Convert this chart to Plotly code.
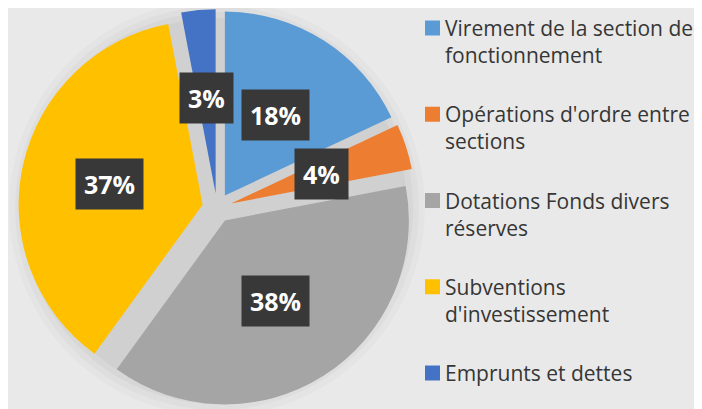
import math
import plotly.graph_objects as go

labels = ["Virement de la section de fonctionnement",
          "Opérations d'ordre entre sections",
          "Dotations Fonds divers réserves",
          "Subventions d'investissement",
          "Emprunts et dettes"]
legend_lines = [["Virement de la section de", "fonctionnement"],
                ["Opérations d'ordre entre", "sections"],
                ["Dotations Fonds divers", "réserves"],
                ["Subventions", "d'investissement"],
                ["Emprunts et dettes"]]
values = [18, 4, 38, 37, 3]
colors = ["#5B9BD5", "#ED7D31", "#A5A5A5", "#FFC000", "#4472C4"]

W, H = 702, 409
CX, CY = 209, 200      # pie centre in px (from top-left)
R = 184                # pie radius in px
PULL = 0.08
half = R * (1 + PULL)


def px(x):
    return x / W


def py(y):
    return 1 - y / H


fig = go.Figure()
fig.add_trace(go.Pie(
    labels=labels, values=values, sort=False, direction="clockwise",
    rotation=0, pull=[PULL] * len(values),
    marker=dict(colors=colors, line=dict(width=0)),
    textinfo="none", hoverinfo="label+percent", showlegend=False,
    domain=dict(x=[px(CX - half), px(CX + half)], y=[py(CY + half), py(CY - half)]),
))

shapes = []
# soft shadow halo behind pie
for rr, op in [(R + 24, 0.02), (R + 18, 0.025), (R + 12, 0.03), (R + 6, 0.03)]:
    shapes.append(dict(type="circle", xref="paper", yref="paper", layer="below",
                       x0=px(CX - rr), x1=px(CX + rr), y0=py(CY + rr), y1=py(CY - rr),
                       fillcolor=f"rgba(0,0,0,{op})", line=dict(width=0)))

annotations = []
total = sum(values)
cum = 0
LABEL_DIST = 110
for v in values:
    mid = (cum + v / 2) / total * 2 * math.pi
    cum += v
    x = CX + LABEL_DIST * math.sin(mid)
    y = CY - LABEL_DIST * math.cos(mid)
    pct = f"{round(v / total * 100)}%"
    annotations.append(dict(x=px(x), y=py(y), xref="paper", yref="paper", showarrow=False,
                            xanchor="center", yanchor="middle", text=pct, borderpad=8,
                            font=dict(family="Open Sans", size=25, color="white", weight="bold"),
                            bgcolor="#383838"))

# custom legend
LEG_X, LEG_Y0, LEG_STEP, LINE_H = 417, 20, 86.25, 27
SQ = 15
for i, (lines, c) in enumerate(zip(legend_lines, colors)):
    yc = LEG_Y0 + i * LEG_STEP
    shapes.append(dict(type="rect", xref="paper", yref="paper",
                       x0=px(LEG_X), x1=px(LEG_X + SQ), y0=py(yc + SQ / 2), y1=py(yc - SQ / 2),
                       fillcolor=c, line=dict(width=0)))
    for j, line in enumerate(lines):
        annotations.append(dict(x=px(LEG_X + SQ + 3), y=py(yc + j * LINE_H),
                                xref="paper", yref="paper",
                                xanchor="left", yanchor="middle", align="left", showarrow=False,
                                text=line,
                                font=dict(family="Open Sans", size=21, color="#363636")))

fig.update_layout(
    width=W, height=H, margin=dict(l=0, r=0, t=0, b=0),
    paper_bgcolor="#e9e9e9", plot_bgcolor="#e9e9e9",
    shapes=shapes, annotations=annotations, showlegend=False,
)
fig.write_html("out.html")
